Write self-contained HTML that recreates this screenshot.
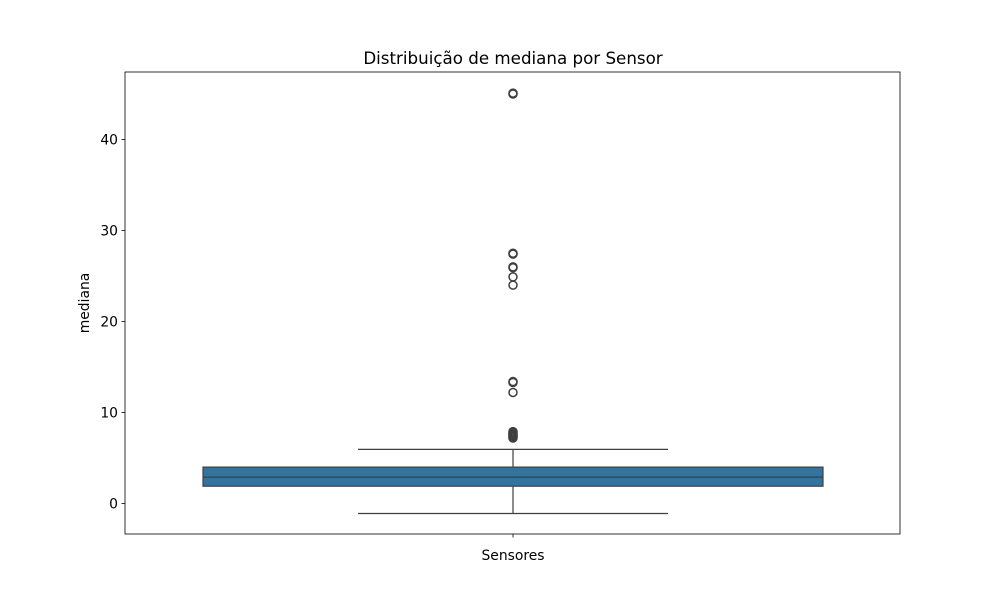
<!DOCTYPE html>
<html><head><meta charset="utf-8"><style>
body{margin:0;background:#fff;font-family:"Liberation Sans","DejaVu Sans",sans-serif}
svg text{font-family:"DejaVu Sans","Liberation Sans",sans-serif}
</style></head><body>
<svg id="c" width="1000" height="600">
<rect width="1000" height="600" fill="#fff"/>
</svg>
<script>
const yTicks=[0,10,20,30,40];
const category=["Sensores"];
const q1=[1.9];
const median=[2.9];
const q3=[4.0];
const whiskerLow=[-1.1];
const whiskerHigh=[5.95];
const outliers=[45,45.1,27.5,27.4,26.0,25.9,24.9,24.0,13.4,13.3,12.2,7.2,7.3,7.4,7.5,7.6,7.7,7.8,7.9];
const L=125,R=900,T=72,B=534;
const y=v=>503.5-9.1*v;
const svg=document.getElementById('c');
const NS='http://www.w3.org/2000/svg';
function mk(t,a,txt){const e=document.createElementNS(NS,t);for(const k in a)e.setAttribute(k,a[k]);if(txt!=null)e.textContent=txt;svg.appendChild(e);return e;}
const cx=513, bl=203, br=823;
let e;
e=mk('line',{x1:cx,x2:cx,y1:y(q3[0]),y2:y(whiskerHigh[0]),stroke:'#3f3f3f','stroke-width':1.2});


e=mk('line',{x1:cx,x2:cx,y1:y(q1[0]),y2:y(whiskerLow[0]),stroke:'#3f3f3f','stroke-width':1.2});


e=mk('line',{x1:358,x2:668,y1:y(whiskerHigh[0]),y2:y(whiskerHigh[0]),stroke:'#3f3f3f','stroke-width':1.2});


e=mk('line',{x1:358,x2:668,y1:y(whiskerLow[0]),y2:y(whiskerLow[0]),stroke:'#3f3f3f','stroke-width':1.2});


e=mk('rect',{x:bl,y:y(q3[0]),width:br-bl,height:y(q1[0])-y(q3[0]),fill:'#3274a1',stroke:'#3f3f3f','stroke-width':1.2});


e=mk('line',{x1:bl,x2:br,y1:y(median[0]),y2:y(median[0]),stroke:'#3f3f3f','stroke-width':1.2});


outliers.forEach(v=>{const o=mk('circle',{cx:cx,cy:y(v),r:4,fill:'none',stroke:'#3f3f3f','stroke-width':1.5});

});
e=mk('rect',{x:L,y:T,width:R-L,height:B-T,fill:'none',stroke:'#000','stroke-width':0.8});


yTicks.forEach(v=>{mk('line',{x1:L-3.5,x2:L,y1:y(v),y2:y(v),stroke:'#000','stroke-width':0.8});
const t=mk('text',{x:L-7,y:y(v)+5,'text-anchor':'end','font-size':13.9},v);

});
mk('line',{x1:cx,x2:cx,y1:B,y2:B+3.5,stroke:'#000','stroke-width':0.8});
e=mk('text',{x:cx,y:B+26,'text-anchor':'middle','font-size':13.9},category[0]);


e=mk('text',{x:89,y:303,'text-anchor':'middle','font-size':13.9,transform:'rotate(-90 89 303)'},'mediana');


e=mk('text',{x:cx,y:64,'text-anchor':'middle','font-size':16.7},'Distribuição de mediana por Sensor');


</script>
</body></html>
